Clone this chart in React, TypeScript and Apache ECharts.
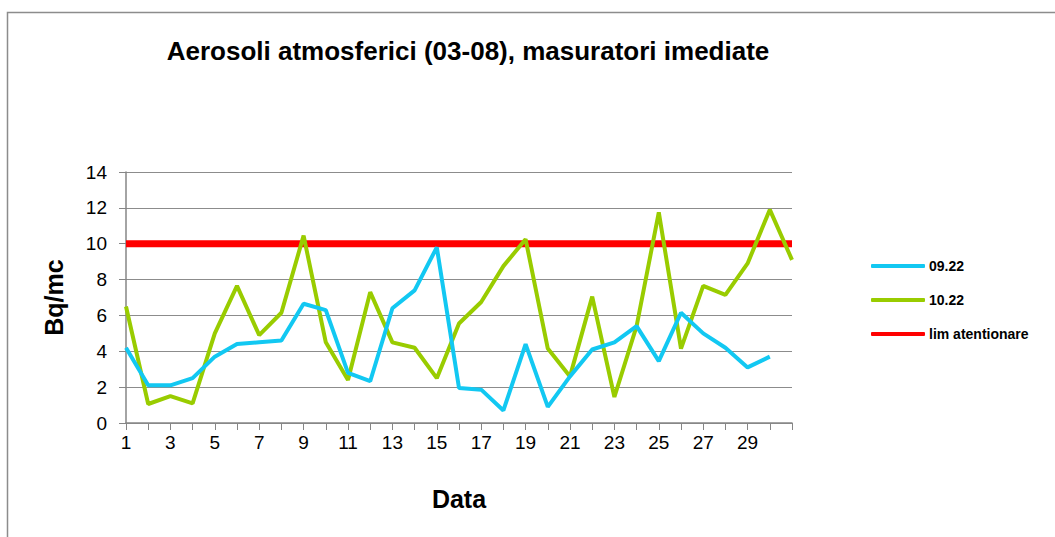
import React, { useEffect, useRef } from "react";
import * as echarts from "echarts";

const categories = Array.from({ length: 31 }, (_, i) => String(i + 1));
const series0922 = [4.2, 2.1, 2.1, 2.5, 3.7, 4.4, 4.5, 4.6, 6.65, 6.3, 2.8, 2.33, 6.4, 7.4, 9.8, 1.95, 1.86, 0.7, 4.4, 0.9, 2.6, 4.1, 4.5, 5.4, 3.45, 6.15, 5.0, 4.2, 3.1, 3.7, null];
const series1022 = [6.5, 1.06, 1.5, 1.1, 5.0, 7.65, 4.9, 6.15, 10.45, 4.5, 2.4, 7.3, 4.5, 4.2, 2.5, 5.55, 6.75, 8.75, 10.25, 4.15, 2.6, 7.05, 1.45, 5.4, 11.75, 4.15, 7.65, 7.15, 8.9, 11.9, 9.1];
const limAtentionare = categories.map(() => 10);
const yTicks = { min: 0, max: 14, interval: 2 };

const FONT = "'Liberation Sans', Arial, sans-serif";

export default function App() {
  const ref = useRef<HTMLDivElement>(null);
  useEffect(() => {
    if (!ref.current) return;
    const chart = echarts.init(ref.current, undefined, { renderer: "svg" });
    chart.setOption({
      animation: false,
      backgroundColor: "#ffffff",
      textStyle: { fontFamily: FONT },
      title: {
        text: "Aerosoli atmosferici (03-08), masuratori imediate",
        left: 463,
        textAlign: "center",
        top: 33,
        textStyle: { fontFamily: FONT, fontSize: 26, fontWeight: "bold", color: "#000" },
      },
      graphic: [
        {
          type: "rect",
          shape: { x: 7.5, y: 12.5, width: 1100, height: 600 },
          style: { fill: "none", stroke: "#8c8c8c", lineWidth: 1.5 },
          silent: true,
        },
      ],
      grid: { left: 126, right: 263, top: 172, bottom: 114, containLabel: false },
      legend: {
        orient: "vertical",
        left: 866,
        top: 254,
        itemGap: 20,
        itemWidth: 54,
        itemHeight: 4,
        icon: "roundRect",
        textStyle: { fontFamily: FONT, fontSize: 14, fontWeight: "bold", color: "#000", padding: [0, 0, 0, -1] },
        data: ["09.22", "10.22", "lim atentionare"],
      },
      xAxis: {
        type: "category",
        data: categories,
        boundaryGap: false,
        name: "Data",
        nameLocation: "middle",
        nameGap: 63,
        nameTextStyle: { fontFamily: FONT, fontSize: 25, fontWeight: "bold", color: "#000" },
        axisLine: { lineStyle: { color: "#868686", width: 1.5 } },
        axisTick: { show: true, interval: 0, length: 7, lineStyle: { color: "#868686" } },
        axisLabel: {
          interval: (index: number) => index % 2 === 0 && index < 30,
          fontFamily: FONT,
          fontSize: 19,
          color: "#000",
          margin: 10,
        },
        splitLine: { show: false },
      },
      yAxis: {
        type: "value",
        min: yTicks.min,
        max: yTicks.max,
        interval: yTicks.interval,
        name: "Bq/mc",
        nameLocation: "middle",
        nameGap: 60,
        nameTextStyle: { fontFamily: FONT, fontSize: 25, fontWeight: "bold", color: "#000" },
        axisLine: { show: true, lineStyle: { color: "#868686", width: 1.5 } },
        axisTick: { show: true, length: 7, lineStyle: { color: "#868686" } },
        axisLabel: { fontFamily: FONT, fontSize: 19, color: "#000", margin: 19 },
        splitLine: { show: true, lineStyle: { color: "#8c8c8c", width: 1 } },
      },
      series: [
        {
          name: "09.22",
          type: "line",
          data: series0922,
          showSymbol: false,
          symbol: "none",
          color: "#12c8f2",
          lineStyle: { color: "#12c8f2", width: 4 },
          z: 3,
        },
        {
          name: "10.22",
          type: "line",
          data: series1022,
          showSymbol: false,
          symbol: "none",
          color: "#99cc00",
          lineStyle: { color: "#99cc00", width: 4 },
          z: 2,
        },
        {
          name: "lim atentionare",
          type: "line",
          data: limAtentionare,
          showSymbol: false,
          symbol: "none",
          color: "#ff0000",
          lineStyle: { color: "#ff0000", width: 7 },
          z: 1,
        },
      ],
    });
    return () => chart.dispose();
  }, []);
  return (
    <div
      ref={ref}
      style={{ position: "fixed", left: 0, top: 0, width: 1055, height: 537, background: "#fff" }}
    />
  );
}
